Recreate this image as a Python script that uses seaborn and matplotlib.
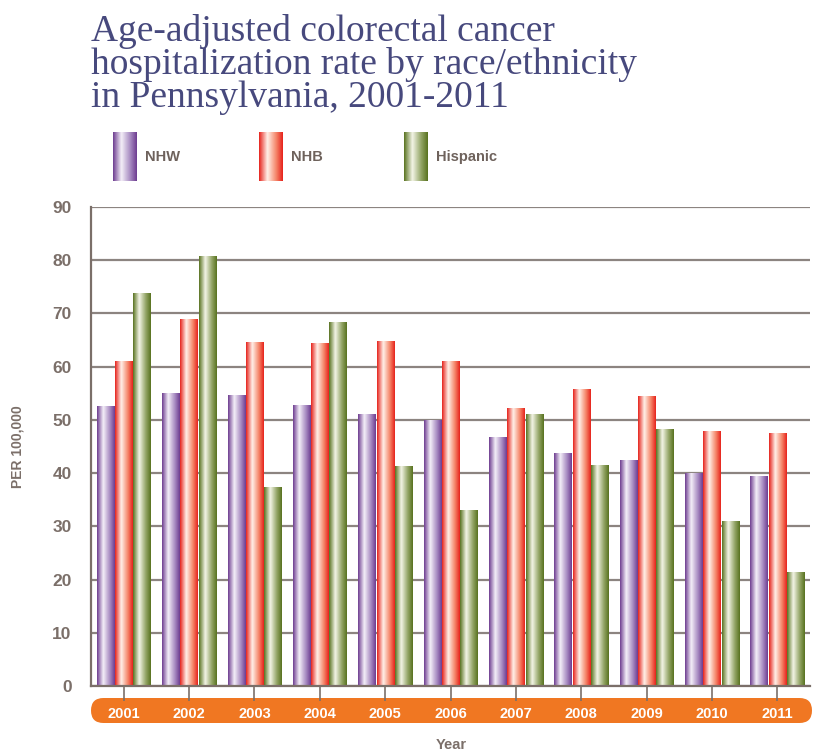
import numpy as np
import pandas as pd
import matplotlib
matplotlib.use("Agg")
import matplotlib.pyplot as plt
import seaborn as sns
from matplotlib.colors import LinearSegmentedColormap
from matplotlib.patches import FancyBboxPatch

# Data
years = ["2001", "2002", "2003", "2004", "2005", "2006", "2007", "2008", "2009", "2010", "2011"]
nhw = [52.6, 55.1, 54.7, 52.8, 51.1, 49.9, 46.8, 43.8, 42.5, 40.0, 39.5]
nhb = [61.1, 69.0, 64.7, 64.5, 64.8, 61.1, 52.3, 55.8, 54.5, 47.9, 47.5]
hispanic = [73.8, 80.8, 37.4, 68.4, 41.4, 33.1, 51.1, 41.5, 48.3, 31.0, 21.4]
groups = ["NHW", "NHB", "Hispanic"]

df = pd.DataFrame({
    "year": years * 3,
    "rate": nhw + nhb + hispanic,
    "group": [g for g in groups for _ in years],
})

# gradient colour stops per group (dark edge -> light highlight -> dark edge)
grad = {
    "NHW": ["#6d3c90", "#f4eff8", "#a88cc2", "#6d3c90"],
    "NHB": ["#e6221b", "#fff0e8", "#f5866a", "#e6221b"],
    "Hispanic": ["#58721f", "#f3f4e6", "#93a566", "#58721f"],
}
cmaps = {g: LinearSegmentedColormap.from_list(g, list(zip([0, 0.35, 0.72, 1], c)))
         for g, c in grad.items()}

gray = "#7b6f69"
sans = ["Liberation Sans Narrow", "Liberation Sans", "DejaVu Sans"]
W, H = 817, 755
fig = plt.figure(figsize=(W / 100, H / 100), dpi=100)
sns.set_style("white")

ov = fig.add_axes([0, 0, 1, 1], zorder=0)
ov.axis("off")

ax = fig.add_axes([91 / W, 1 - 686 / H, 719 / W, 479 / H], zorder=1)
sns.barplot(data=df, x="year", y="rate", hue="group", palette=[g[0] for g in grad.values()],
            width=0.84, gap=0.06, ax=ax, legend=False, errorbar=None)

# paint each bar with a vertical stripe gradient
gvals = np.linspace(0, 1, 128).reshape(1, -1)
for i, cont in enumerate(ax.containers):
    cmap = cmaps[groups[i]]
    for bar in cont:
        x0, w, h = bar.get_x(), bar.get_width(), bar.get_height()
        im = ax.imshow(gvals, cmap=cmap, aspect="auto", extent=[x0, x0 + w, 0, h],
                       zorder=2, interpolation="bilinear")
        im.set_clip_path(bar)
        bar.set_edgecolor("none")

ax.set_xlim(-0.5, 10.5)
ax.set_ylim(0, 90)
ax.set_yticks(range(0, 91, 10))
ax.set_axisbelow(True)
ax.yaxis.grid(True, color="#8c8480", lw=1.6)
ax.xaxis.grid(False)
for s in ["top", "right"]:
    ax.spines[s].set_visible(False)
for s in ["left", "bottom"]:
    ax.spines[s].set_color(gray)
    ax.spines[s].set_linewidth(1.6)
ax.tick_params(axis="y", left=False, length=0, pad=14, labelsize=12.5, labelcolor=gray)
ax.tick_params(axis="x", bottom=True, length=11, width=1.2, color=gray, direction="out",
               pad=4, labelsize=10.5, labelcolor="white")
for t in ax.get_yticklabels() + ax.get_xticklabels():
    t.set_fontweight("bold")
    t.set_family(sans)
ax.set_xlabel("")
ax.set_ylabel("")

# orange band behind year labels
ov.add_patch(FancyBboxPatch((91, 698), 721, 25, boxstyle="round,pad=0,rounding_size=12.5",
                            fc="#f07722", ec="none"))

# axis titles
fig.text(18 / W, 1 - 447 / H, "PER 100,000", rotation=90, ha="center", va="center",
         fontsize=10, fontweight="bold", color=gray, family=sans)
fig.text(451 / W, 1 - 745 / H, "Year", ha="center", va="center",
         fontsize=10.5, fontweight="bold", color=gray, family=sans)

# title
fig.text(91 / W, 1 - 14 / H,
         "Age-adjusted colorectal cancer\nhospitalization rate by race/ethnicity\nin Pennsylvania, 2001-2011",
         ha="left", va="top", fontsize=27, color="#47497d", linespacing=0.93,
         family=["Liberation Serif", "DejaVu Serif"])

# legend swatches with gradient
for g, sx in zip(groups, [113, 259, 404]):
    ov.imshow(gvals, cmap=cmaps[g], aspect="auto", extent=[sx, sx + 24, 181, 132],
              interpolation="bilinear")
    ov.text(sx + 32, 157, g, ha="left", va="center", fontsize=10.5, fontweight="bold",
            color="#6e625c", family=sans)
ov.set_xlim(0, W)
ov.set_ylim(H, 0)

fig.savefig("out.png", dpi=100)
